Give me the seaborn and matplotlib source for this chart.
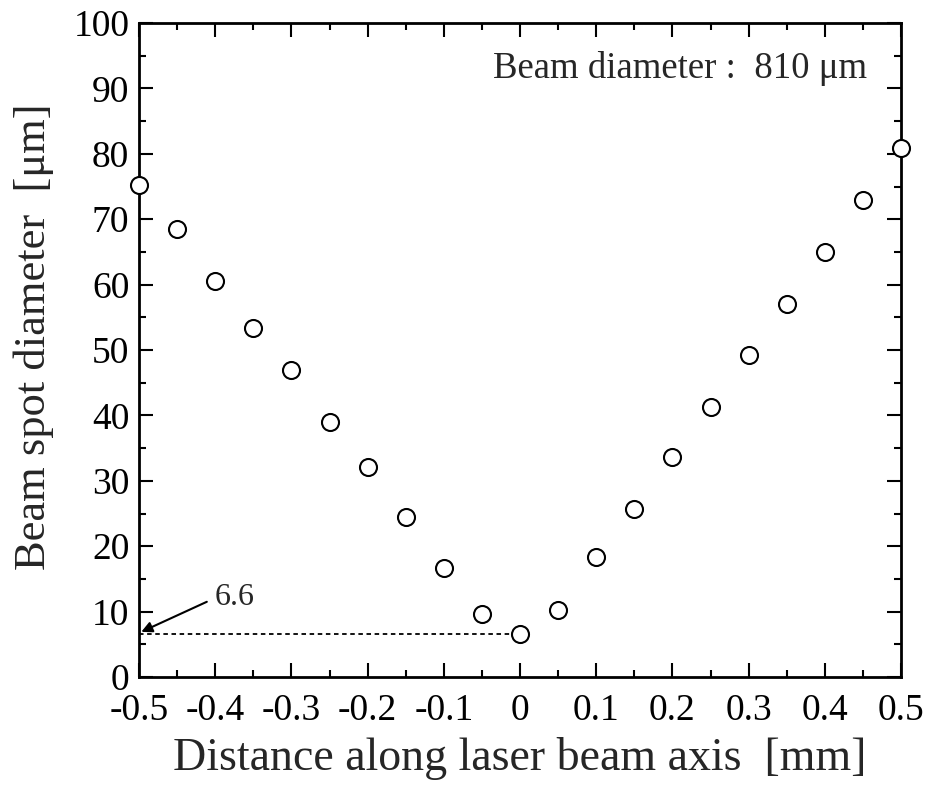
import matplotlib
matplotlib.use("Agg")
import matplotlib.pyplot as plt
import seaborn as sns
import pandas as pd
from matplotlib.ticker import MultipleLocator

distance = [-0.5, -0.45, -0.4, -0.35, -0.3, -0.25, -0.2, -0.15, -0.1, -0.05, 0.0,
            0.05, 0.1, 0.15, 0.2, 0.25, 0.3, 0.35, 0.4, 0.45, 0.5]
spot = [75.2, 68.5, 60.6, 53.4, 46.9, 39.0, 32.1, 24.5, 16.7, 9.6, 6.6,
        10.2, 18.3, 25.7, 33.6, 41.3, 49.2, 57.0, 65.0, 72.9, 80.9]
min_value = 6.6
x_ticks = [-0.5, -0.4, -0.3, -0.2, -0.1, 0, 0.1, 0.2, 0.3, 0.4, 0.5]
x_tick_labels = ["-0.5", "-0.4", "-0.3", "-0.2", "-0.1", "0", "0.1", "0.2", "0.3", "0.4", "0.5"]
y_ticks = [0, 10, 20, 30, 40, 50, 60, 70, 80, 90, 100]

sns.set_style("ticks")
plt.rcParams['font.family'] = ['Liberation Serif', 'DejaVu Serif']

df = pd.DataFrame({"distance": distance, "spot": spot})

fig = plt.figure(figsize=(9.32, 7.85), dpi=100)
ax = fig.add_axes([139/932, 1-677/785, (901-139)/932, (677-23)/785])

ax.plot([-0.5, 0.0], [min_value, min_value], linestyle=(0, (2.5, 2)), color="black", lw=1.3, zorder=1)

sns.scatterplot(data=df, x="distance", y="spot", ax=ax, marker="o", s=150,
                facecolor="white", edgecolor="black", linewidth=1.5, zorder=3, clip_on=False)

ax.set_xlim(-0.5, 0.5)
ax.set_ylim(0, 100)
ax.set_xticks(x_ticks)
ax.set_xticklabels(x_tick_labels)
ax.set_yticks(y_ticks)
ax.xaxis.set_minor_locator(MultipleLocator(0.05))
ax.yaxis.set_minor_locator(MultipleLocator(5))
ax.tick_params(which="both", direction="in", top=True, right=True, width=1.5, colors="black")
ax.tick_params(which="major", length=10, labelsize=27)
ax.tick_params(axis="x", which="major", pad=12)
ax.tick_params(axis="y", which="major", pad=7)
ax.tick_params(which="minor", length=5)
for sp in ax.spines.values():
    sp.set_linewidth(2)
    sp.set_color("black")

ax.set_xlabel("Distance along laser beam axis  [mm]", fontsize=33, labelpad=6)
ax.set_ylabel("Beam spot diameter  [μm]", fontsize=32)
ax.yaxis.set_label_coords(-0.112, 0.52)

ax.text(0.955, 0.931, "Beam diameter :  810 μm", transform=ax.transAxes, ha="right", va="center", fontsize=26.5)

ax.text(-0.375, 12.1, "6.6", fontsize=23, ha="center", va="center")
ax.annotate("", xy=(-0.497, 6.9), xytext=(-0.411, 11.5),
            arrowprops=dict(arrowstyle="-|>", color="black", lw=1.5, shrinkA=0, shrinkB=0,
                            mutation_scale=16))

fig.savefig("out.png", dpi=100)
